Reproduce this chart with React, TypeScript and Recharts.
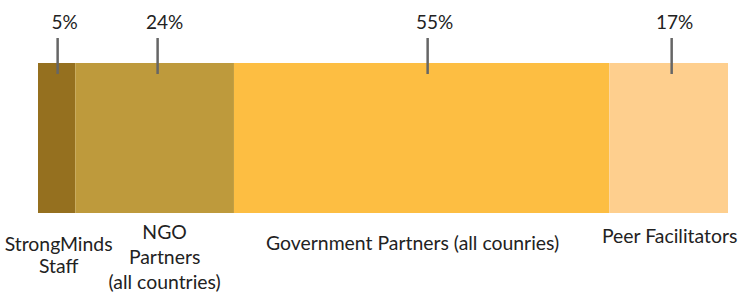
import { BarChart, Bar, XAxis, YAxis, LabelList } from "recharts";

// categories, shares and printed labels
const categories = ["staff", "ngo", "gov", "peer"];
const shares = [5.4, 23, 54.4, 17.2];
const percentLabels = ["5%", "24%", "55%", "17%"];
const categoryLines = [
  ["StrongMinds", "Staff"],
  ["NGO", "Partners", "(all countries)"],
  ["Government Partners (all counries)"],
  ["Peer Facilitators"],
];
const colors = ["#95701F", "#BE9A3C", "#FDBE42", "#FECF8E"];

// label placement tweaks
const tickDx = [1, 3, 6, 3];
const pctDx = [8, 10, 13, 6];
const nameDx = [2, 10, -9, 1];
const nameTop = [243, 231, 242, 235];
const lineGap = [22, 25, 0, 0];

const total = shares.reduce((a, b) => a + b, 0);
const row: Record<string, number | string> = { name: "all" };
categories.forEach((c, i) => (row[c] = shares[i]));
const chartData = [row];

const FONT = "Lato, 'Open Sans', sans-serif";

function makeLabel(i: number) {
  return (props: any) => {
    const x = Number(props.x);
    const y = Number(props.y);
    const w = Number(props.width);
    const cx = x + w / 2;
    return (
      <g>
        <line
          x1={cx + tickDx[i]}
          x2={cx + tickDx[i]}
          y1={y - 25}
          y2={y + 11}
          stroke="#666"
          strokeWidth={2.5}
        />
        <text
          x={cx + pctDx[i]}
          y={21}
          textAnchor="middle"
          dominantBaseline="central"
          fontSize={19}
          fontFamily={FONT}
          fill="#222"
        >
          {percentLabels[i]}
        </text>
        {categoryLines[i].map((line, k) => (
          <text
            key={k}
            x={cx + nameDx[i]}
            y={nameTop[i] + k * lineGap[i]}
            textAnchor="middle"
            dominantBaseline="central"
            fontSize={19.4}
            fontFamily={FONT}
            fill="#222"
          >
            {line}
          </text>
        ))}
      </g>
    );
  };
}

export default function App() {
  return (
    <div style={{ position: "absolute", left: 0, top: 0, background: "#fff" }}>
      <BarChart
        width={738}
        height={294}
        data={chartData}
        layout="vertical"
        margin={{ top: 63, right: 10, bottom: 81, left: 38 }}
        barCategoryGap={0}
      >
        <XAxis type="number" domain={[0, total]} hide />
        <YAxis type="category" dataKey="name" hide />
        {categories.map((c, i) => (
          <Bar
            key={c}
            dataKey={c}
            stackId="a"
            fill={colors[i]}
            isAnimationActive={false}
          >
            <LabelList dataKey={c} content={makeLabel(i)} />
          </Bar>
        ))}
      </BarChart>
    </div>
  );
}
